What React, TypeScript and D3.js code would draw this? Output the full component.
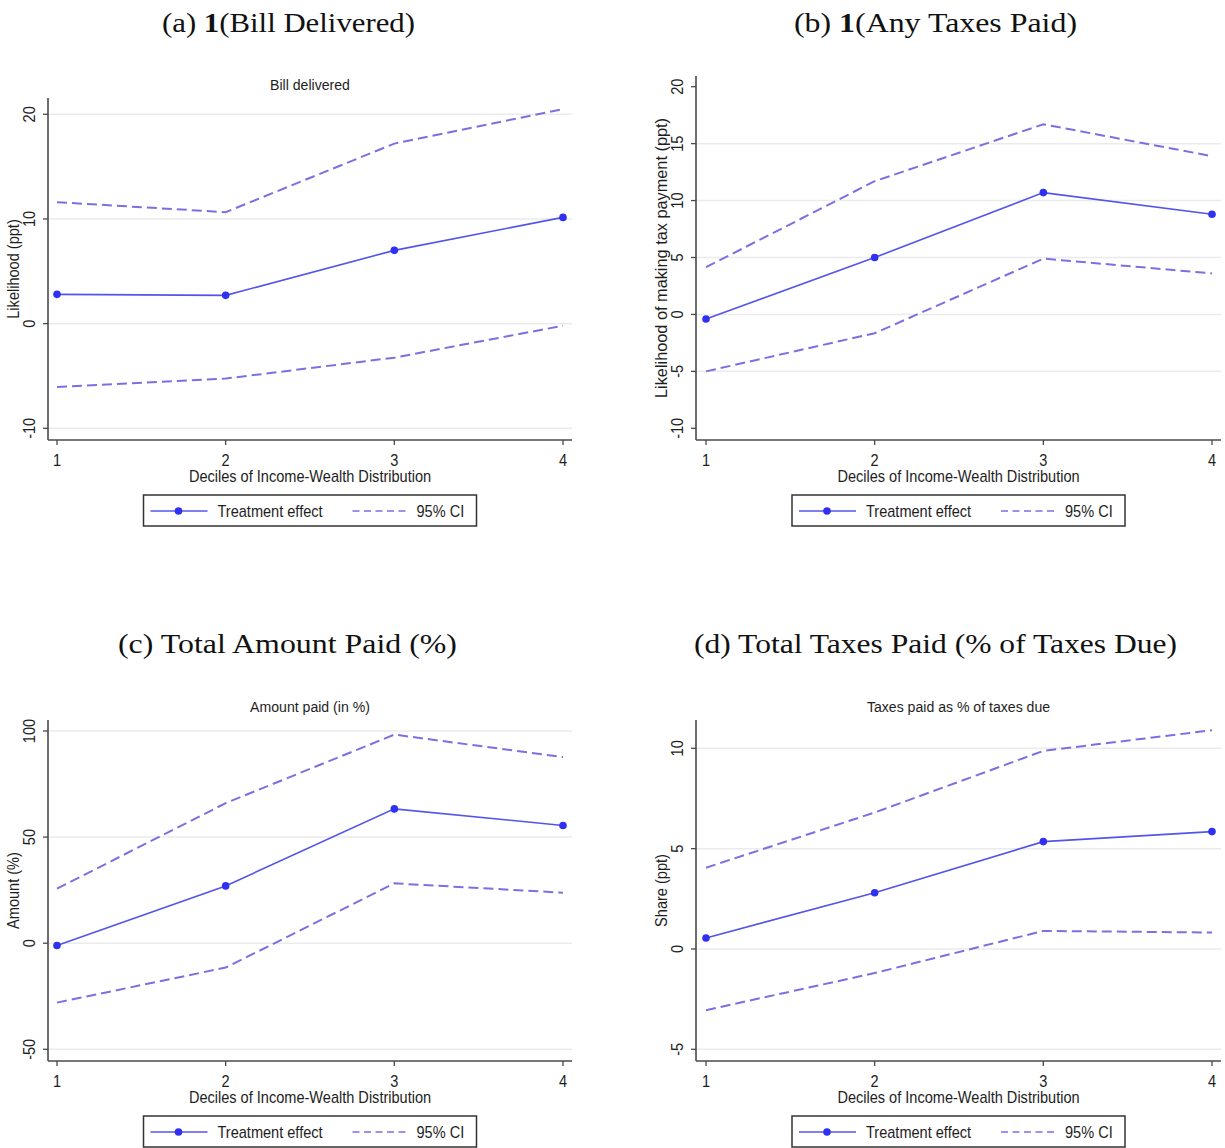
import React from "react";
import * as d3 from "d3";

// ---------- data ----------
const deciles = [1, 2, 3, 4];

const billEffect = [2.8, 2.7, 7.0, 10.15];
const billUpper = [11.6, 10.65, 17.2, 20.5];
const billLower = [-6.05, -5.25, -3.25, -0.2];

const anyTaxEffect = [-0.4, 5.0, 10.7, 8.8];
const anyTaxUpper = [4.15, 11.7, 16.7, 13.9];
const anyTaxLower = [-5.0, -1.65, 4.9, 3.6];

const amountEffect = [-1.1, 27, 63.3, 55.5];
const amountUpper = [25.7, 66, 98.3, 87.7];
const amountLower = [-28, -11.5, 28.2, 23.8];

const shareEffect = [0.55, 2.8, 5.35, 5.85];
const shareUpper = [4.05, 6.8, 9.87, 10.9];
const shareLower = [-3.05, -1.2, 0.9, 0.82];

const billTicks = [-10, 0, 10, 20];
const anyTaxTicks = [-10, -5, 0, 5, 10, 15, 20];
const amountTicks = [-50, 0, 50, 100];
const shareTicks = [-5, 0, 5, 10];

const billGrid = [-10, 0, 10, 20];
const anyTaxGrid = [-5, 0, 5, 10, 15];
const amountGrid = [-50, 0, 50, 100];
const shareGrid = [-5, 0, 5, 10];

const xTitle = "Deciles of Income-Wealth Distribution";
const legendLabels = ["Treatment effect", "95% CI"];

// ---------- styles ----------
const SANS = "'Liberation Sans', Arial, sans-serif";
const SERIF = "'Liberation Serif', 'Times New Roman', serif";
const SOLID = "#5454ea";
const DOT = "#3030f2";
const DASH = "#7a70e2";
const GRID = "#ebebeb";
const AXIS = "#4a4a4a";
const TXT = "#1e1e1e";
const SX = 0.91;

type Panel = {
  letter: string;
  bold?: string;
  headRest: string;
  headWidth: number;
  headX: number;
  headY: number;
  title?: string;
  ylabel: string;
  ylabelLen?: number;
  effect: number[];
  upper: number[];
  lower: number[];
  ticks: number[];
  grid: number[];
  left: number;
  right: number;
  x1: number;
  x4: number;
  top: number;
  bottom: number;
  yDom: [number, number];
  yRng: [number, number];
};

const panels: Panel[] = [
  {
    letter: "(a) ", bold: "1", headRest: "(Bill Delivered)", headWidth: 253, headX: 288.5, headY: 32,
    title: "Bill delivered", ylabel: "Likelihood (ppt)",
    effect: billEffect, upper: billUpper, lower: billLower, ticks: billTicks, grid: billGrid,
    left: 48, right: 572, x1: 57, x4: 563, top: 98, bottom: 440,
    yDom: [-10, 20], yRng: [428.3, 114.3],
  },
  {
    letter: "(b) ", bold: "1", headRest: "(Any Taxes Paid)", headWidth: 283, headX: 935.5, headY: 32,
    ylabel: "Likelihood of making tax payment (ppt)", ylabelLen: 280,
    effect: anyTaxEffect, upper: anyTaxUpper, lower: anyTaxLower, ticks: anyTaxTicks, grid: anyTaxGrid,
    left: 696, right: 1221, x1: 706, x4: 1212, top: 76, bottom: 440,
    yDom: [-10, 20], yRng: [428.3, 86.7],
  },
  {
    letter: "(c) ", headRest: "Total Amount Paid (%)", headWidth: 339, headX: 287.5, headY: 653,
    title: "Amount paid (in %)", ylabel: "Amount (%)",
    effect: amountEffect, upper: amountUpper, lower: amountLower, ticks: amountTicks, grid: amountGrid,
    left: 48, right: 572, x1: 57, x4: 563, top: 720, bottom: 1061,
    yDom: [-50, 100], yRng: [1049.3, 731],
  },
  {
    letter: "(d) ", headRest: "Total Taxes Paid (% of Taxes Due)", headWidth: 483, headX: 935.5, headY: 653,
    title: "Taxes paid as % of taxes due", ylabel: "Share (ppt)",
    effect: shareEffect, upper: shareUpper, lower: shareLower, ticks: shareTicks, grid: shareGrid,
    left: 696, right: 1221, x1: 706, x4: 1212, top: 720, bottom: 1061,
    yDom: [-5, 10], yRng: [1049.3, 748.3],
  },
];

function T(props: {
  x: number;
  y: number;
  rot?: number;
  children: React.ReactNode;
  size?: number;
  anchor?: string;
  len?: number;
}) {
  const { x, y, rot = 0, size = 16, anchor = "middle", len } = props;
  const sx = len ? 1 : SX;
  return (
    <text
      transform={`translate(${x},${y}) rotate(${rot}) scale(${sx},1)`}
      fontFamily={SANS}
      fontSize={size}
      fill={TXT}
      textAnchor={anchor}
      textLength={len}
      lengthAdjust={len ? "spacingAndGlyphs" : undefined}
    >
      {props.children}
    </text>
  );
}

function PanelView({ p }: { p: Panel }) {
  const x = d3.scaleLinear().domain([1, 4]).range([p.x1, p.x4]);
  const y = d3.scaleLinear().domain(p.yDom).range(p.yRng);
  const line = d3
    .line<number>()
    .x((_, i) => x(deciles[i]))
    .y((d) => y(d));
  const cx = (p.left + p.right) / 2;
  const midY = (p.top + p.bottom) / 2;
  const lgL = cx - 166.5;
  const lgT = p.bottom + 55;
  return (
    <g>
      <text
        x={p.headX}
        y={p.headY}
        fontFamily={SERIF}
        fontSize={27}
        fill="#111"
        textAnchor="middle"
        textLength={p.headWidth}
        lengthAdjust="spacingAndGlyphs"
      >
        {p.letter}
        {p.bold ? <tspan fontWeight="bold">{p.bold}</tspan> : null}
        {p.headRest}
      </text>
      {p.title ? (
        <T x={cx} y={p.top - 8} size={15.5}>
          {p.title}
        </T>
      ) : null}
      {/* grid */}
      {p.grid.map((v) => (
        <line key={"g" + v} x1={p.left} x2={p.right} y1={y(v)} y2={y(v)} stroke={GRID} strokeWidth={1.5} />
      ))}
      {/* axes */}
      <line x1={p.left} x2={p.left} y1={p.top} y2={p.bottom} stroke={AXIS} strokeWidth={1.6} />
      <line x1={p.left} x2={p.right} y1={p.bottom} y2={p.bottom} stroke={AXIS} strokeWidth={1.6} />
      {p.ticks.map((v) => (
        <g key={"yt" + v}>
          <line x1={p.left - 5} x2={p.left} y1={y(v)} y2={y(v)} stroke={AXIS} strokeWidth={1.3} />
          <T x={p.left - 13} y={y(v)} rot={-90}>
            {String(v)}
          </T>
        </g>
      ))}
      {deciles.map((d) => (
        <g key={"xt" + d}>
          <line x1={x(d)} x2={x(d)} y1={p.bottom} y2={p.bottom + 5} stroke={AXIS} strokeWidth={1.3} />
          <T x={x(d)} y={p.bottom + 26}>
            {String(d)}
          </T>
        </g>
      ))}
      <T x={cx} y={p.bottom + 42}>
        {xTitle}
      </T>
      <T x={p.left - 29} y={midY} rot={-90} len={p.ylabelLen}>
        {p.ylabel}
      </T>
      {/* series */}
      <path d={line(p.upper) || ""} fill="none" stroke={DASH} strokeWidth={2} strokeDasharray="10,5" />
      <path d={line(p.lower) || ""} fill="none" stroke={DASH} strokeWidth={2} strokeDasharray="10,5" />
      <path d={line(p.effect) || ""} fill="none" stroke={SOLID} strokeWidth={1.6} />
      {p.effect.map((v, i) => (
        <circle key={"pt" + i} cx={x(deciles[i])} cy={y(v)} r={3.8} fill={DOT} />
      ))}
      {/* legend */}
      <rect x={lgL} y={lgT} width={333} height={31} fill="white" stroke="#333" strokeWidth={1.5} />
      <line x1={lgL + 7} x2={lgL + 64} y1={lgT + 16} y2={lgT + 16} stroke={SOLID} strokeWidth={1.6} />
      <circle cx={lgL + 35} cy={lgT + 16} r={3.8} fill={DOT} />
      <T x={lgL + 74} y={lgT + 22} anchor="start">
        {legendLabels[0]}
      </T>
      <line x1={lgL + 209} x2={lgL + 265} y1={lgT + 16} y2={lgT + 16} stroke={DASH} strokeWidth={1.6} strokeDasharray="7,4.5" />
      <T x={lgL + 273} y={lgT + 22} anchor="start">
        {legendLabels[1]}
      </T>
    </g>
  );
}

export default function App() {
  return (
    <svg
      width={1225}
      height={1148}
      viewBox="0 0 1225 1148"
      style={{ position: "absolute", left: 0, top: 0, background: "white" }}
    >
      <rect x={0} y={0} width={1225} height={1148} fill="white" />
      {panels.map((p, i) => (
        <PanelView key={i} p={p} />
      ))}
    </svg>
  );
}
